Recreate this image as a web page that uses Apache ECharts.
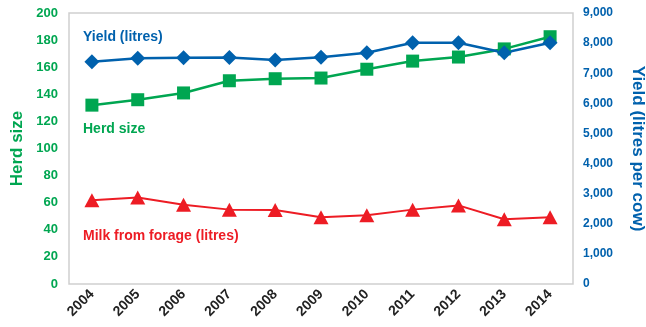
<!DOCTYPE html>
<html>
<head>
<meta charset="utf-8">
<script src="https://cdn.jsdelivr.net/npm/echarts@6/dist/echarts.min.js"></script>
<style>
  html, body { margin: 0; padding: 0; background: #fff; }
  #chart { width: 646px; height: 327px; }
</style>
</head>
<body>
<div id="chart"></div>
<script>
// Dairy herd figures, 2004–2014
const years = ['2004','2005','2006','2007','2008','2009','2010','2011','2012','2013','2014'];
const herdSize = [132, 136, 141, 150, 151.5, 152, 158.5, 164.5, 167.5, 173.5, 182.5];
const yieldLitres = [7380, 7500, 7510, 7520, 7440, 7530, 7680, 8010, 8010, 7680, 8010];
const forageLitres = [2780, 2870, 2630, 2470, 2460, 2220, 2280, 2470, 2610, 2150, 2220];
const herdTicks = { min: 0, max: 200, interval: 20 };
const yieldTicks = { min: 0, max: 9000, interval: 1000 };

const GREEN = '#00a651';
const BLUE = '#0061ad';
const RED = '#ed1c24';
const FONT = 'Liberation Sans';

const chart = echarts.init(document.getElementById('chart'));
chart.setOption({
  animation: false,
  textStyle: { fontFamily: FONT },
  grid: {
    left: 69, right: 73, top: 13, bottom: 43,
    outerBoundsMode: 'none',
    containLabel: false,
    show: true, borderColor: '#cfcfcf', borderWidth: 1.5, backgroundColor: '#fff'
  },
  xAxis: {
    type: 'category',
    data: years,
    boundaryGap: true,
    axisLine: { show: false },
    axisTick: { show: false },
    axisLabel: {
      rotate: 45, margin: 8, color: '#222', fontWeight: 'bold', fontSize: 14, fontFamily: FONT
    }
  },
  yAxis: [
    {
      type: 'value',
      min: herdTicks.min, max: herdTicks.max, interval: herdTicks.interval,
      name: 'Herd size',
      nameLocation: 'middle',
      nameGap: 42,
      nameTextStyle: { color: GREEN, fontWeight: 'bold', fontSize: 17, fontFamily: FONT },
      axisLine: { show: false },
      axisTick: { show: false },
      splitLine: { show: false },
      axisLabel: { color: GREEN, fontWeight: 'bold', fontSize: 13, margin: 11, fontFamily: FONT }
    },
    {
      type: 'value',
      position: 'right',
      min: yieldTicks.min, max: yieldTicks.max, interval: yieldTicks.interval,
      name: 'Yield (litres per cow)',
      nameLocation: 'middle',
      nameGap: 56,
      nameRotate: -90,
      nameTextStyle: { color: BLUE, fontWeight: 'bold', fontSize: 17, fontFamily: FONT },
      axisLine: { show: false },
      axisTick: { show: false },
      splitLine: { show: false },
      axisLabel: {
        color: BLUE, fontWeight: 'bold', fontSize: 12, margin: 10, fontFamily: FONT,
        formatter: v => v.toLocaleString('en-US')
      }
    }
  ],
  series: [
    {
      name: 'Milk from forage (litres)',
      type: 'line',
      yAxisIndex: 1,
      data: forageLitres,
      symbol: 'triangle',
      symbolSize: [15, 14],
      itemStyle: { color: RED },
      lineStyle: { color: RED, width: 2 }
    },
    {
      name: 'Herd size',
      type: 'line',
      yAxisIndex: 0,
      data: herdSize,
      symbol: 'rect',
      symbolSize: 13,
      itemStyle: { color: GREEN },
      lineStyle: { color: GREEN, width: 2.5 }
    },
    {
      name: 'Yield (litres)',
      type: 'line',
      yAxisIndex: 1,
      data: yieldLitres,
      symbol: 'diamond',
      symbolSize: [15, 15],
      itemStyle: { color: BLUE },
      lineStyle: { color: BLUE, width: 2.5 }
    }
  ],
  graphic: [
    { type: 'text', left: 83, top: 30, style: { text: 'Yield (litres)', fill: BLUE, font: 'bold 14px "Liberation Sans"' } },
    { type: 'text', left: 83, top: 122, style: { text: 'Herd size', fill: GREEN, font: 'bold 14px "Liberation Sans"' } },
    { type: 'text', left: 83, top: 229, style: { text: 'Milk from forage (litres)', fill: RED, font: 'bold 14px "Liberation Sans"' } }
  ]
});
</script>
</body>
</html>
